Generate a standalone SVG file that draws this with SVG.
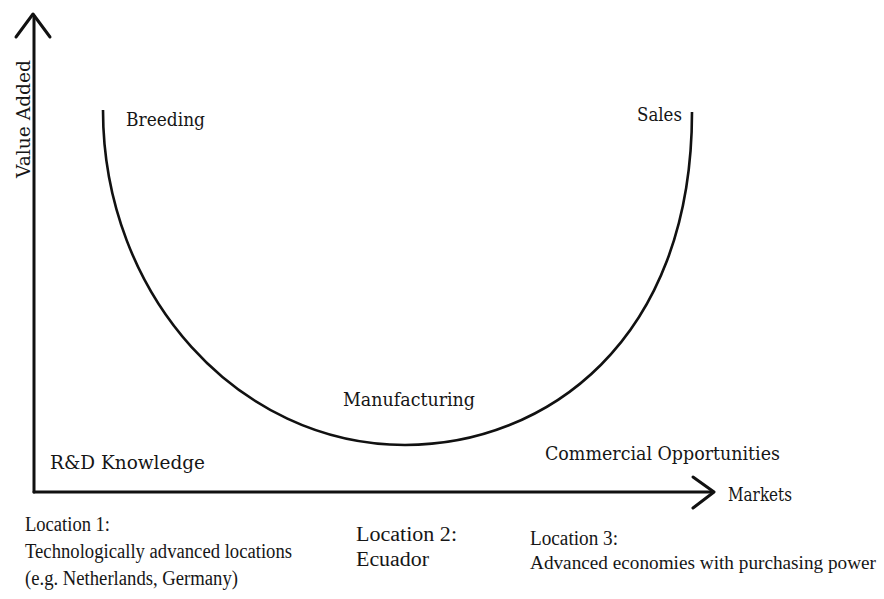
<svg xmlns="http://www.w3.org/2000/svg" width="884" height="599" viewBox="0 0 884 599">
  <style>
    .axis { fill: none; stroke: #111; stroke-width: 3; stroke-linecap: round; stroke-linejoin: round; }
    .curve { fill: none; stroke: #111; stroke-width: 2.6; }
    .lbl { font-family: "DejaVu Serif", "Liberation Serif", serif; font-size: 18px; fill: #161616; }
    .loc { font-family: "Liberation Serif", "Times New Roman", "DejaVu Serif", serif; font-size: 20px; fill: #161616; }
    .loc.long { font-size: 18px; }
  </style>
  <rect width="884" height="599" fill="#ffffff"/>

  <g id="connectors">
    <!-- vertical axis with open chevron head -->
    <path class="axis" d="M34,492 V16"/>
    <path class="axis" d="M16,37 L33,14 L50,37"/>
    <!-- horizontal axis with open chevron head -->
    <path class="axis" d="M34,492 H713"/>
    <path class="axis" d="M693,477 L714,492 L693,508"/>
    <!-- smile curve: two cubic quarters meeting at the trough -->
    <path class="curve" d="M103,110 C103,295 238,445 405,445 C545,445 692,342 692,112"/>
  </g>

  <g id="axis-y-label">
    <text class="lbl" transform="translate(30,178) rotate(-90)" textLength="118" lengthAdjust="spacingAndGlyphs">Value Added</text>
  </g>
  <g id="axis-x-label">
    <text class="lbl" x="728" y="501" textLength="64" lengthAdjust="spacingAndGlyphs">Markets</text>
  </g>

  <g id="breeding">
    <text class="lbl" x="126" y="126" textLength="79" lengthAdjust="spacingAndGlyphs">Breeding</text>
  </g>
  <g id="sales">
    <text class="lbl" x="637" y="121" textLength="45" lengthAdjust="spacingAndGlyphs">Sales</text>
  </g>
  <g id="manufacturing">
    <text class="lbl" x="343" y="406" textLength="132" lengthAdjust="spacingAndGlyphs">Manufacturing</text>
  </g>
  <g id="rd-knowledge">
    <text class="lbl" x="50" y="469" textLength="155" lengthAdjust="spacingAndGlyphs">R&amp;D Knowledge</text>
  </g>
  <g id="commercial">
    <text class="lbl" x="545" y="460" textLength="235" lengthAdjust="spacingAndGlyphs">Commercial Opportunities</text>
  </g>

  <g id="location-1">
    <text class="loc" x="25" y="531" textLength="85" lengthAdjust="spacingAndGlyphs">Location 1:</text>
    <text class="loc" x="25" y="558" textLength="267" lengthAdjust="spacingAndGlyphs">Technologically advanced locations</text>
    <text class="loc" x="25" y="585" textLength="213" lengthAdjust="spacingAndGlyphs">(e.g. Netherlands, Germany)</text>
  </g>
  <g id="location-2">
    <text class="loc" x="356" y="541" textLength="101" lengthAdjust="spacingAndGlyphs">Location 2:</text>
    <text class="loc" x="356" y="566" textLength="73" lengthAdjust="spacingAndGlyphs">Ecuador</text>
  </g>
  <g id="location-3">
    <text class="loc" x="530" y="545" textLength="88" lengthAdjust="spacingAndGlyphs">Location 3:</text>
    <text class="loc long" x="530" y="569" textLength="346" lengthAdjust="spacingAndGlyphs">Advanced economies with purchasing power</text>
  </g>
</svg>
